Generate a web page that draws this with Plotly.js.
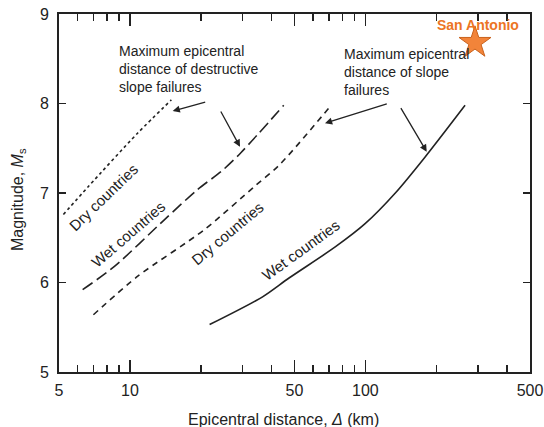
<!DOCTYPE html>
<html>
<head>
<meta charset="utf-8">
<script src="https://cdn.plot.ly/plotly-3.0.1.min.js"></script>
<style>html,body{margin:0;padding:0;background:#fff}#chart{width:544px;height:427px}</style>
</head>
<body>
<div id="chart"></div>
<script>
// Dry countries - max distance of destructive slope failures (dotted)
const dryDestDist = [5.22, 6.65, 10.8, 15.0];
const dryDestMag  = [6.76, 7.07, 7.67, 8.04];
// Wet countries - max distance of destructive slope failures (long dash)
const wetDestDist = [6.3, 8.6, 14.0, 19.4, 24.4, 29.6, 45.0];
const wetDestMag  = [5.92, 6.18, 6.70, 7.04, 7.24, 7.45, 7.98];
// Dry countries - max distance of slope failures (dashed)
const drySlopeDist = [7.0, 10.8, 20.7, 33.7, 43.0, 71.0];
const drySlopeMag  = [5.64, 6.07, 6.59, 7.07, 7.31, 7.97];
// Wet countries - max distance of slope failures (solid)
const wetSlopeDist = [21.8, 36.6, 47.4, 74.7, 100, 134, 179, 265];
const wetSlopeMag  = [5.53, 5.84, 6.05, 6.40, 6.66, 7.00, 7.40, 7.98];
// San Antonio point
const siteName = ["San Antonio"];
const siteDist = [292];
const siteMag  = [8.68];

const xTickVals = [5, 10, 50, 100, 500];
const xTickText = ["5", "10", "50", "100", "500"];
const xMinorVals = [6, 7, 8, 9, 20, 30, 40, 60, 70, 80, 90, 200, 300, 400];
const yTickVals = [5, 6, 7, 8, 9];
const yTickText = ["5", "6", "7", "8", "9"];

const W = 544, H = 427, ML = 59, MR = 14, MT = 14, MB = 55;
const PW = W - ML - MR, PH = H - MT - MB;
const px = v => (v - ML) / PW;
const py = v => (H - MB - v) / PH;

const FONT = "Liberation Sans, Arial, sans-serif";
const ink = "#222";

function curve(x, y, dash) {
  return {x: x, y: y, type: "scatter", mode: "lines",
    line: {color: ink, width: 1.6, dash: dash, shape: "spline", smoothing: 0.8},
    hoverinfo: "skip", showlegend: false};
}

const data = [
  curve(dryDestDist, dryDestMag, "dot"),
  curve(wetDestDist, wetDestMag, "12px,5px"),
  curve(drySlopeDist, drySlopeMag, "6px,5px"),
  curve(wetSlopeDist, wetSlopeMag, "solid"),
  {x: siteDist, y: siteMag, text: siteName, type: "scatter", mode: "markers",
   marker: {symbol: "star", size: 24, color: "#F2843A", line: {color: "#C9611C", width: 1}},
   showlegend: false, hoverinfo: "skip"}
];

function label(text, cx, cy, ang, size) {
  return {xref: "paper", yref: "paper", x: px(cx), y: py(cy), text: text,
    showarrow: false, textangle: ang, xanchor: "center", yanchor: "middle",
    font: {family: FONT, size: size || 15, color: ink}};
}
function arrow(hx, hy, tx, ty) {
  return {xref: "paper", yref: "paper", x: px(hx), y: py(hy), ax: tx - hx, ay: ty - hy,
    text: "", showarrow: true, arrowhead: 2, arrowsize: 1.1, arrowwidth: 1.3,
    arrowcolor: ink, standoff: 0, startstandoff: 0};
}

const annotations = [
  {xref: "paper", yref: "paper", x: px(117), y: py(69), xanchor: "left", yanchor: "middle",
   align: "left", showarrow: false,
   text: "Maximum epicentral<br>distance of destructive<br>slope failures",
   font: {family: FONT, size: 14, color: ink}},
  {xref: "paper", yref: "paper", x: px(342), y: py(72), xanchor: "left", yanchor: "middle",
   align: "left", showarrow: false,
   text: "Maximum epicentral<br>distance of slope<br>failures",
   font: {family: FONT, size: 14, color: ink}},
  arrow(172.7, 111, 206.7, 101.7),
  arrow(240, 146.7, 220, 110),
  arrow(325, 123.3, 388.3, 103.3),
  arrow(426.7, 151.7, 400, 106.7),
  label("Dry countries", 103, 197, -44),
  label("Wet countries", 128, 235, -41),
  label("Dry countries", 227, 233, -40),
  label("Wet countries", 300, 250, -36),
  {xref: "paper", yref: "paper", x: px(478), y: py(25.5), text: "<b>" + siteName[0] + "</b>",
   showarrow: false, xanchor: "center", yanchor: "middle",
   font: {family: FONT, size: 14, color: "#EC7424"}},
  {xref: "paper", yref: "paper", x: px(19), y: py(200), text: "Magnitude, <i>M</i><sub>s</sub>",
   showarrow: false, textangle: -90, xanchor: "center", yanchor: "middle",
   font: {family: FONT, size: 16, color: ink}},
  {xref: "paper", yref: "paper", x: px(283), y: py(419), text: "Epicentral distance, <i>Δ</i> (km)",
   showarrow: false, xanchor: "center", yanchor: "middle",
   font: {family: FONT, size: 16, color: ink}}
];

const layout = {
  width: W, height: H,
  margin: {l: ML, r: MR, t: MT, b: MB, pad: 0},
  paper_bgcolor: "#fff", plot_bgcolor: "#fff",
  showlegend: false,
  xaxis: {type: "log", range: [Math.log10(5), Math.log10(500)],
    tickmode: "array", tickvals: xTickVals, ticktext: xTickText,
    ticks: "inside", ticklen: 12, tickwidth: 1.5, tickcolor: ink,
    ticklabelstandoff: 3,
    showline: true, linecolor: ink, linewidth: 2, mirror: "ticks",
    showgrid: false, zeroline: false,
    tickfont: {family: FONT, size: 16, color: ink},
    minor: {tickmode: "array", tickvals: xMinorVals, ticks: "inside", ticklen: 7,
      tickwidth: 1.5, tickcolor: ink, showgrid: false},
    fixedrange: true},
  yaxis: {range: [5, 9], tickmode: "array", tickvals: yTickVals, ticktext: yTickText,
    ticks: "inside", ticklen: 7, tickwidth: 1.5, tickcolor: ink,
    ticklabelstandoff: 5,
    showline: true, linecolor: ink, linewidth: 2, mirror: "ticks",
    showgrid: false, zeroline: false,
    tickfont: {family: FONT, size: 16, color: ink},
    fixedrange: true},
  annotations: annotations
};

Plotly.newPlot("chart", data, layout, {staticPlot: true, displayModeBar: false});
</script>
</body>
</html>
